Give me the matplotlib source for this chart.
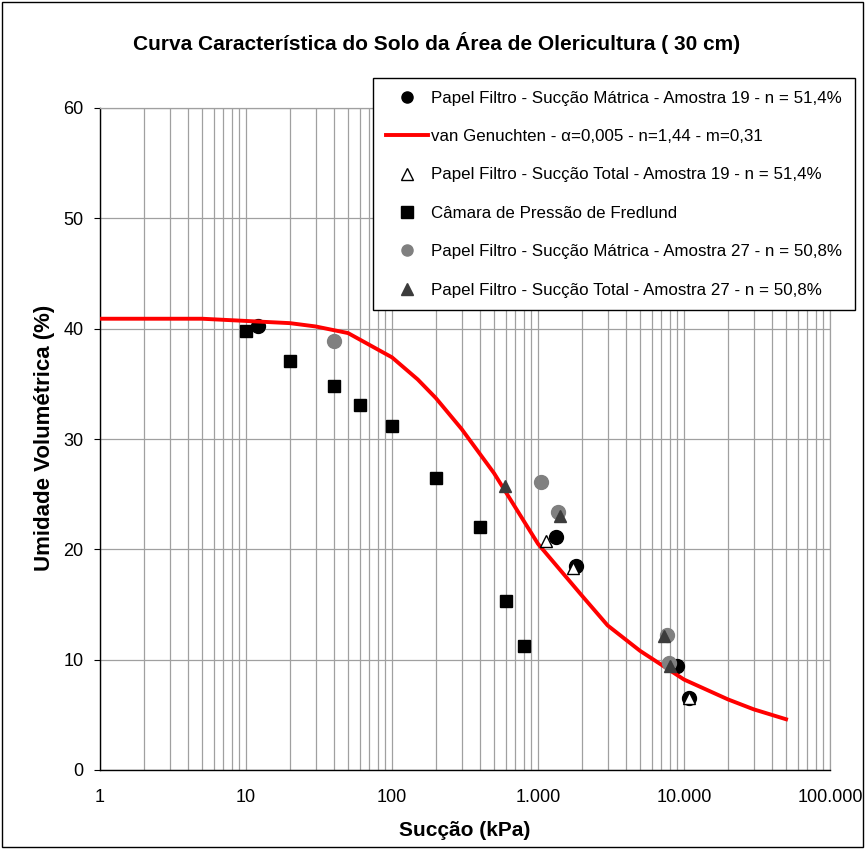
import matplotlib
matplotlib.use("Agg")
import matplotlib.pyplot as plt
from matplotlib.ticker import FixedLocator, LogLocator, NullFormatter
from matplotlib.lines import Line2D
from matplotlib.patches import Rectangle

plt.rcParams['font.family'] = ['Liberation Sans', 'DejaVu Sans']

# Papel Filtro - Sucção Mátrica - Amostra 19
mat19_x = [12, 1330, 1820, 8950, 10800]
mat19_y = [40.2, 21.1, 18.5, 9.4, 6.5]

# van Genuchten curve (tabulated)
vg_x = [1, 2, 3, 5, 10, 20, 30, 50, 100, 150, 200, 300, 500, 1000, 2000,
        3000, 5000, 10000, 20000, 30000, 50000]
vg_y = [40.9, 40.9, 40.9, 40.9, 40.7, 40.5, 40.2, 39.6, 37.4, 35.4, 33.7,
        30.9, 26.9, 20.5, 15.8, 13.1, 10.8, 8.2, 6.4, 5.5, 4.6]

# Papel Filtro - Sucção Total - Amostra 19
tot19_x = [1130, 1750, 10800]
tot19_y = [20.8, 18.3, 6.5]

# Câmara de Pressão de Fredlund
fred_x = [10, 20, 40, 60, 100, 200, 400, 600, 800]
fred_y = [39.8, 37.1, 34.8, 33.1, 31.2, 26.5, 22.0, 15.3, 11.2]

# Papel Filtro - Sucção Mátrica - Amostra 27
mat27_x = [40, 1050, 1370, 7650, 7900]
mat27_y = [38.9, 26.1, 23.4, 12.2, 9.7]

# Papel Filtro - Sucção Total - Amostra 27
tot27_x = [594, 1415, 7300, 8020]
tot27_y = [25.7, 23.0, 12.1, 9.4]

labels = [
    "Papel Filtro - Sucção Mátrica - Amostra 19 - n = 51,4%",
    "van Genuchten - α=0,005 - n=1,44 - m=0,31",
    "Papel Filtro - Sucção Total - Amostra 19 - n = 51,4%",
    "Câmara de Pressão de Fredlund",
    "Papel Filtro - Sucção Mátrica - Amostra 27 - n = 50,8%",
    "Papel Filtro - Sucção Total - Amostra 27 - n = 50,8%",
]

x_ticks = [1, 10, 100, 1000, 10000, 100000]
x_ticklabels = ["1", "10", "100", "1.000", "10.000", "100.000"]
y_ticks = [0, 10, 20, 30, 40, 50, 60]

W, H = 865, 849
fig = plt.figure(figsize=(W / 100, H / 100), dpi=100)
fig.patches.append(Rectangle((2 / W, 2 / H), (W - 4) / W, (H - 4) / H,
                             transform=fig.transFigure, fill=False,
                             edgecolor='black', linewidth=1.0))

ax = fig.add_axes([100 / W, 1 - 770 / H, 730 / W, 662 / H])
ax.set_xscale('log')
ax.set_xlim(1, 100000)
ax.set_ylim(0, 60)

ax.xaxis.set_major_locator(FixedLocator(x_ticks))
ax.set_xticklabels(x_ticklabels)
ax.xaxis.set_minor_locator(LogLocator(base=10, subs=range(2, 10), numticks=20))
ax.xaxis.set_minor_formatter(NullFormatter())
ax.set_yticks(y_ticks)

ax.grid(True, which='major', axis='both', color='#a0a0a0', linewidth=0.9)
ax.grid(True, which='minor', axis='x', color='#a0a0a0', linewidth=0.9)
ax.set_axisbelow(True)

for s in ['top', 'right']:
    ax.spines[s].set_color('#a0a0a0')
    ax.spines[s].set_linewidth(0.9)
for s in ['left', 'bottom']:
    ax.spines[s].set_color('black')
    ax.spines[s].set_linewidth(1.0)

ax.tick_params(axis='both', which='major', direction='out', length=4,
               labelsize=13, pad=8, color='black')
ax.tick_params(axis='x', which='minor', length=0)
ax.tick_params(axis='x', which='major', length=0, pad=14)

h1, = ax.plot(mat19_x, mat19_y, 'o', color='black', markersize=10,
              linestyle='none', zorder=3)
h2, = ax.plot(vg_x, vg_y, '-', color='#ff0000', linewidth=2.8, zorder=4)
h3, = ax.plot(tot19_x, tot19_y, '^', markerfacecolor='white',
              markeredgecolor='black', markeredgewidth=1.0, markersize=9,
              linestyle='none', zorder=5)
h4, = ax.plot(fred_x, fred_y, 's', color='black', markersize=9,
              linestyle='none', zorder=6)
h5, = ax.plot(mat27_x, mat27_y, 'o', color='#808080', markersize=10,
              linestyle='none', zorder=7)
h6, = ax.plot(tot27_x, tot27_y, '^', color='#3c3c3c', markersize=9,
              linestyle='none', zorder=8)

leg_handles = [
    Line2D([], [], marker='o', color='black', linestyle='none', markersize=8),
    Line2D([], [], color='#ff0000', linewidth=2.8),
    Line2D([], [], marker='^', markerfacecolor='white', markeredgecolor='black',
           linestyle='none', markersize=8),
    Line2D([], [], marker='s', color='black', linestyle='none', markersize=8),
    Line2D([], [], marker='o', color='#808080', linestyle='none', markersize=8),
    Line2D([], [], marker='^', color='#3c3c3c', linestyle='none', markersize=8),
]
leg = fig.legend(leg_handles, labels, loc='upper left',
                 bbox_to_anchor=(373 / W, 1 - 78 / H),
                 bbox_transform=fig.transFigure,
                 fontsize=12.2, frameon=True, fancybox=False,
                 edgecolor='black', framealpha=1, borderpad=0.75,
                 labelspacing=1.38, handlelength=2.5, handletextpad=0.2,
                 borderaxespad=0)
leg.get_frame().set_linewidth(1.0)

fig.text(0.5 * (133 + 741) / W, 1 - 43 / H,
         "Curva Característica do Solo da Área de Olericultura ( 30 cm)",
         ha='center', va='center', fontsize=15, fontweight='bold')
ax.set_xlabel("Sucção (kPa)", fontsize=15, fontweight='bold')
ax.xaxis.set_label_coords(0.5 * (400 + 529 - 200) / 730, -(830 - 770) / 662)
ax.set_ylabel("Umidade Volumétrica (%)", fontsize=16, fontweight='bold')
ax.yaxis.set_label_coords(-(100 - 45) / 730, (770 - 438) / 662)
ax.xaxis.label.set_va('center')
ax.yaxis.label.set_va('center')

fig.savefig("out.png", dpi=100)
